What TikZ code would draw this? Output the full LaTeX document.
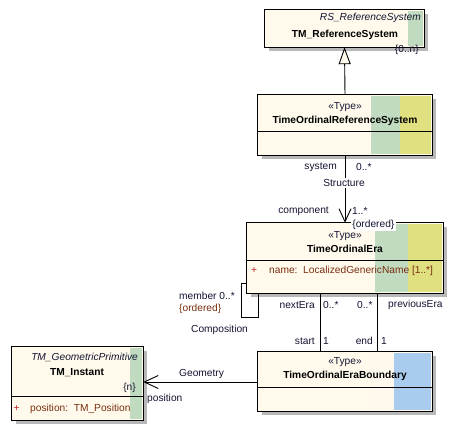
\documentclass[tikz,border=0pt]{standalone}
\usepackage{fontspec}
\setmainfont{Liberation Sans}
\usetikzlibrary{arrows.meta}
\definecolor{cream}{HTML}{FFFAEC}
\definecolor{creamlt}{HTML}{FFF8EC}
\definecolor{umlgreen}{HTML}{C0DBC0}
\definecolor{umlyellow}{HTML}{E0E080}
\definecolor{umlblue}{HTML}{A9CBEE}
\definecolor{shadowgray}{HTML}{B8B8B8}
\definecolor{lbl}{HTML}{141432}
\definecolor{attr}{HTML}{7A2E10}
\definecolor{plus}{HTML}{C02020}
\tikzset{
  every node/.style={font=\fontsize{10.2}{12}\selectfont, text=lbl, inner sep=0pt},
  classbox/.style={draw=none, fill=cream, rectangle},
  border/.style={draw=black, line width=1pt},
  conn/.style={draw=black, line width=0.9pt},
  lab/.style={font=\fontsize{10.2}{12}\selectfont, text=lbl},
  bname/.style={font=\fontsize{10.2}{12}\selectfont\bfseries, text=black},
  itname/.style={font=\fontsize{10.2}{12}\selectfont\itshape, text=lbl},
  attrtxt/.style={font=\fontsize{10.2}{12}\selectfont, text=attr},
  plustxt/.style={font=\fontsize{10.2}{12}\selectfont, text=plus},
  whitebg/.style={fill=white, inner sep=1.2pt},
}
\begin{document}
\begin{tikzpicture}[x=1pt, y=-1pt]
\useasboundingbox (0,0) rectangle (453,427);
\fill[white] (0,0) rectangle (453,427);

% ---------- TM_ReferenceSystem ----------
\fill[shadowgray] (269,14) rectangle (428,51);
\node[classbox, minimum width=159pt, minimum height=37pt] (rs) at (344.5,28.5) {};
\fill[umlgreen] (408,11) rectangle (423,46);
\draw[border] (rs.north west) rectangle (rs.south east);
\node[itname, anchor=east] (rsst) at (421,18) {RS\_ReferenceSystem};
\node[bname] (rsname) at (345,35) {TM\_ReferenceSystem};
\node[lab, anchor=east] (rsmult) at (419,50) {\{0..n\}};

% ---------- TimeOrdinalReferenceSystem ----------
\fill[shadowgray] (262,99) rectangle (436,159);
\node[classbox, minimum width=174pt, minimum height=60pt] (tors) at (345,125) {};
\fill[umlgreen] (371,96) rectangle (400,154);
\fill[umlyellow] (400,96) rectangle (431,154);
\draw[border] (tors.north west) rectangle (tors.south east);
\draw[border] (258,132) -- (432,132);
\node[lab] (torsst) at (345,107) {«Type»};
\node[bname] (torsname) at (345,121) {TimeOrdinalReferenceSystem};

% ---------- TimeOrdinalEra ----------
\fill[shadowgray] (251,227) rectangle (447,297);
\node[classbox, minimum width=196pt, minimum height=70pt] (toe) at (345,258) {};
\fill[umlgreen] (375,224) rectangle (408,292);
\fill[umlyellow] (408,224) rectangle (442,292);
\draw[border] (toe.north west) rectangle (toe.south east);
\draw[border] (247,261) -- (443,261);
\node[lab] (toest) at (345,236) {«Type»};
\node[bname] (toename) at (345,249) {TimeOrdinalEra};
\node[plustxt] (toeplus) at (254,271) {+};
\node[attrtxt, anchor=west] (toeattr) at (269,271) {name:\ \ LocalizedGenericName [1..*]};

% ---------- TimeOrdinalEraBoundary ----------
\fill[shadowgray] (262,356) rectangle (436,415);
\node[classbox, minimum width=174pt, minimum height=59pt] (toeb) at (345,381.5) {};
\fill[creamlt] (371,353) rectangle (394,410);
\fill[umlblue] (394,353) rectangle (431,410);
\draw[border] (toeb.north west) rectangle (toeb.south east);
\draw[border] (258,388) -- (432,388);
\node[lab] (toebst) at (345,362) {«Type»};
\node[bname] (toebname) at (345,376) {TimeOrdinalEraBoundary};

% ---------- TM_Instant ----------
\fill[shadowgray] (16,351) rectangle (147,424);
\node[classbox, minimum width=131pt, minimum height=73pt] (inst) at (77.5,383.5) {};
\fill[umlgreen] (130,348) rectangle (142,419);
\draw[border] (inst.north west) rectangle (inst.south east);
\draw[border] (12,397) -- (143,397);
\node[itname, anchor=east] (instst) at (138,357) {TM\_GeometricPrimitive};
\node[bname] (instname) at (77,373) {TM\_Instant};
\node[lab, anchor=east] (instmult) at (136,388) {\{n\}};
\node[plustxt] (instplus) at (16.5,409) {+};
\node[attrtxt, anchor=west] (instattr) at (30,409) {position:\ \ TM\_Position};

% ---------- Generalization ----------
\draw[conn, -{Triangle[open, length=17pt, width=12pt, fill=cream]}] (tors.north) -- (rs.south);

% ---------- Structure ----------
\draw[conn, -{Straight Barb[length=13pt, width=12pt]}] (tors.south) -- (toe.north);
\node[lab, whitebg] (structlab) at (344,183) {Structure};
\node[lab, anchor=east] (sysrole) at (337,167) {system};
\node[lab, anchor=west] (sysmult) at (356,167) {0..*};
\node[lab, anchor=east] (comprole) at (329,211) {component};
\node[lab, anchor=west] (compmult) at (352,211) {1..*};
\node[lab, whitebg, anchor=west] (compord) at (351,225) {\{ordered\}};

% ---------- Composition (self loop) ----------
\coordinate (loopy) at (0,283);
\coordinate (loopx) at (258,0);
\coordinate (loopl) at (241,283);
\coordinate (loopb) at (258,317);
\draw[conn] (toe.west |- loopy) -- (loopl) |- (loopb) -- (toe.south -| loopx);
\node[lab, anchor=west] (memrole) at (179,296) {member 0..*};
\node[attrtxt, anchor=west] (memord) at (179,309) {\{ordered\}};
\node[lab, anchor=west] (complab) at (191,330) {Composition};

% ---------- nextEra / previousEra ----------
\coordinate (nx) at (320,0);
\coordinate (px) at (377,0);
\draw[conn] (toe.south -| nx) -- (toeb.north -| nx);
\draw[conn] (toe.south -| px) -- (toeb.north -| px);
\node[lab, anchor=east] (nextrole) at (315,305) {nextEra};
\node[lab, anchor=west] (nextmult) at (323,305) {0..*};
\node[lab, anchor=west] (prevmult) at (357,305) {0..*};
\node[lab, anchor=west] (prevrole) at (388,305) {previousEra};
\node[lab, anchor=east] (startrole) at (315,341) {start};
\node[lab, anchor=west] (startmult) at (323,341) {1};
\node[lab, anchor=east] (endrole) at (373,341) {end};
\node[lab, anchor=west] (endmult) at (381,341) {1};

% ---------- Geometry ----------
\coordinate (geoy) at (0,382);
\draw[conn, -{Straight Barb[length=14pt, width=13pt]}] (toeb.west |- geoy) -- (inst.east |- geoy);
\node[lab, anchor=west] (geomlab) at (179,374) {Geometry};
\node[lab, anchor=west] (posrole) at (147,399) {position};
\end{tikzpicture}
\end{document}
